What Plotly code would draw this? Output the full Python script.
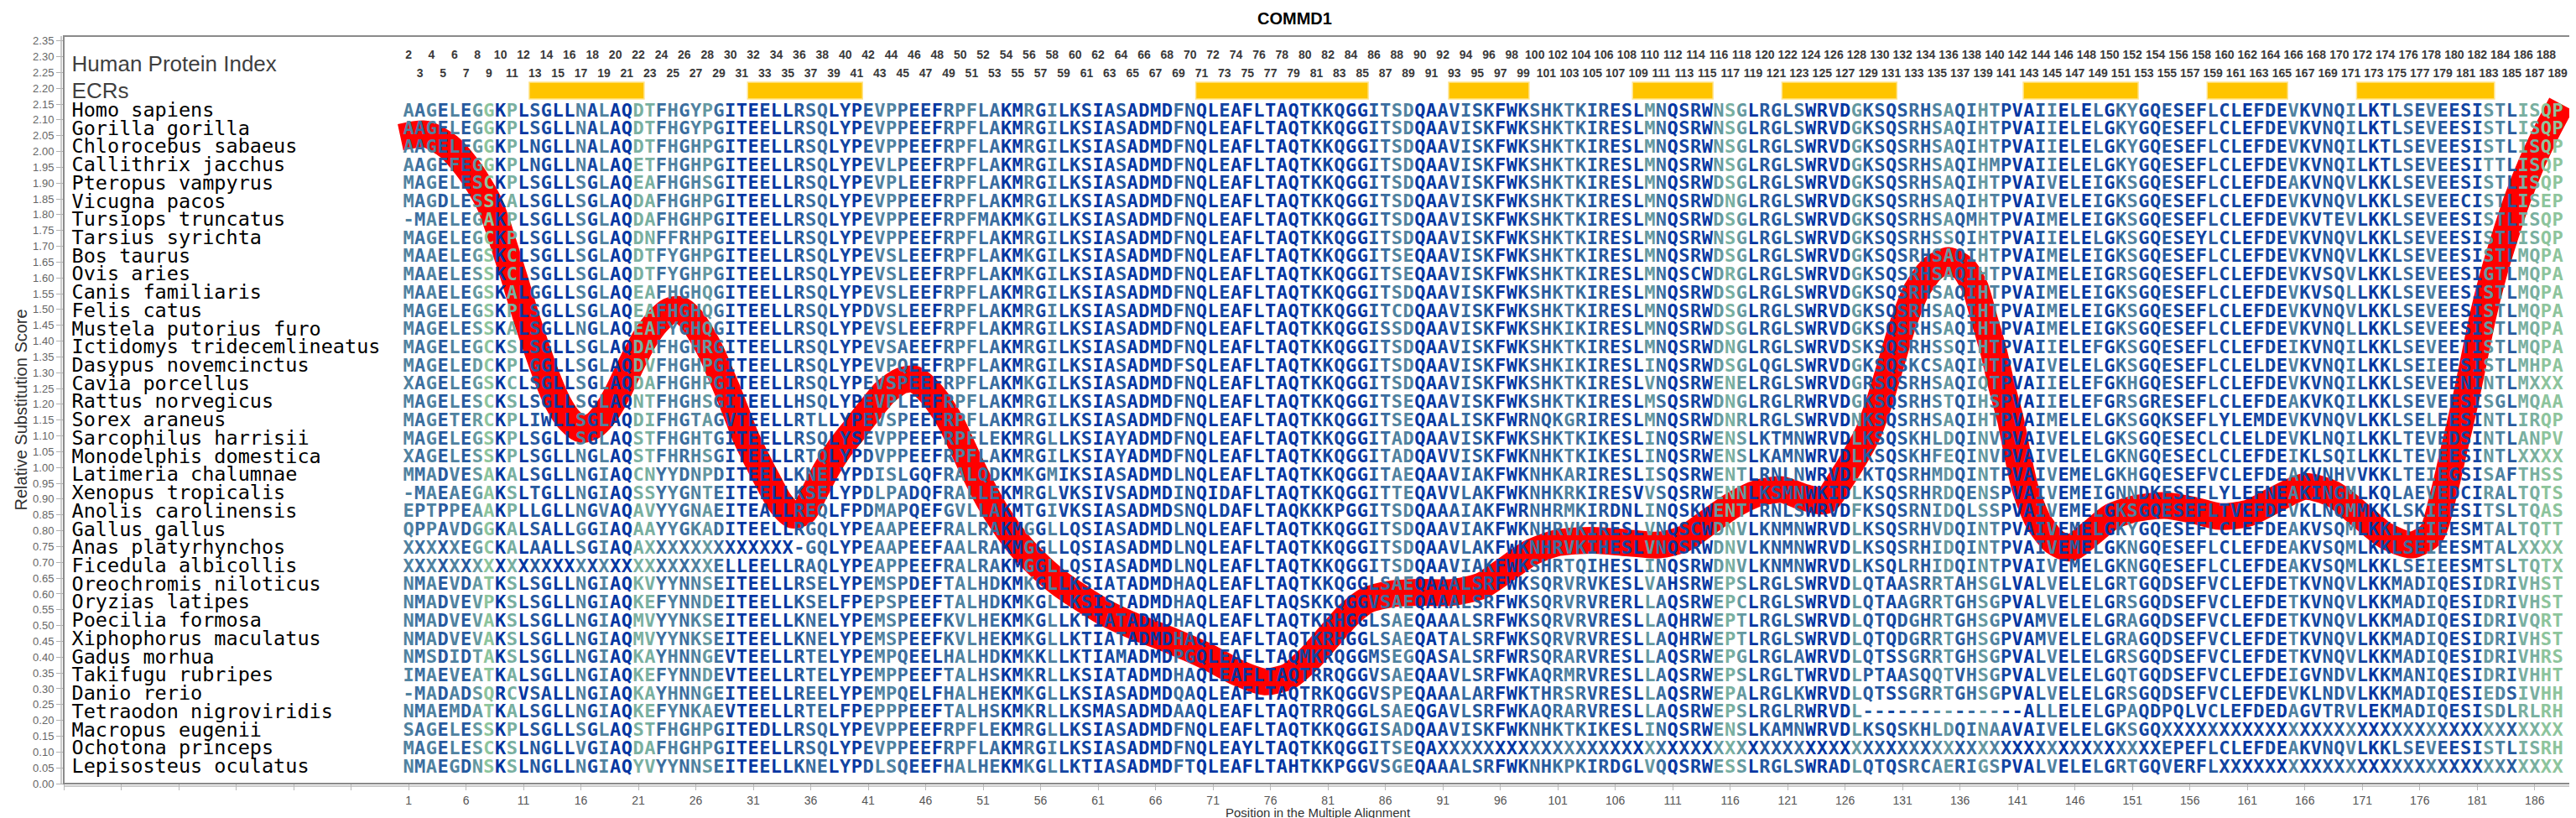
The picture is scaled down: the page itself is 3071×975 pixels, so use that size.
import plotly.graph_objects as go
from collections import Counter

# ---------------- data ----------------
species = [
    "Homo sapiens", "Gorilla gorilla", "Chlorocebus sabaeus", "Callithrix jacchus",
    "Pteropus vampyrus", "Vicugna pacos", "Tursiops truncatus", "Tarsius syrichta",
    "Bos taurus", "Ovis aries", "Canis familiaris", "Felis catus",
    "Mustela putorius furo", "Ictidomys tridecemlineatus", "Dasypus novemcinctus",
    "Cavia porcellus", "Rattus norvegicus", "Sorex araneus", "Sarcophilus harrisii",
    "Monodelphis domestica", "Latimeria chalumnae", "Xenopus tropicalis",
    "Anolis carolinensis", "Gallus gallus", "Anas platyrhynchos", "Ficedula albicollis",
    "Oreochromis niloticus", "Oryzias latipes", "Poecilia formosa",
    "Xiphophorus maculatus", "Gadus morhua", "Takifugu rubripes", "Danio rerio",
    "Tetraodon nigroviridis", "Macropus eugenii", "Ochotona princeps",
    "Lepisosteus oculatus",
]

H1 = "AAGELEGGKPLSGLLNALAQDTFHGYPGITEELLRSQLYPEVPPEEFRPFLAKMRGILKS"
H2 = "IASADMDFNQLEAFLTAQTKKQGGITSDQAAVISKFWKSHKTKIRESLMNQSRWNSGLRGLSW"
H3 = "RVDGKSQSRHSAQIHTPVAIIELELGKYGQESEFLCLEFDEVKVNQILKTLSEVEESISTLISQP"

# alignment columns 1-60 / 61-123 / 124-188
alignment_parts = [
    (H1, H2, H3),
    (H1, H2, H3),
    ("AAGELEGGKPLNGLLNALAQDTFHGHPGITEELLRSQLYPEVPPEEFRPFLAKMRGILKS", H2, H3),
    ("AAGEFEGGKPLNGLLNALAQETFHGHPGITEELLRSQLYPEVLPEEFRPFLAKMRGILKS", H2,
     "RVDGKSQSRHSAQIHMPVAIIELELGKYGQESEFLCLEFDEVKVNQILKTLSEVEESITTLISQP"),
    ("MAGELESCKPLSGLLSGLAQEAFHGHSGITEELLRSQLYPEVPLEEFRPFLAKMRGILKS",
     "IASADMDFNQLEAFLTAQTKKQGGITSDQAAVISKFWKSHKTKIRESLMNQSRWDSGLRGLSW",
     "RVDGKSQSRHSAQIHTPVAIVELEIGKSGQESEFLCLEFDEAKVNQVLKKLSEVEESISTLISQP"),
    ("MAGDLESSKALSGLLSGLAQDAFHGHPGITEELLRSQLYPEVPPEEFRPFLAKMRGILKS",
     "IASADMDFNQLEAFLTAQTKKQGGITSDQAAVISKFWKSHKTKIRESLMNQSRWDNGLRGLSW",
     "RVDGKSQSRHSAQIHTPVAIVELEIGKSGQESEFLCLEFDEVKVNQVLKKLSEVEECISTLISEP"),
    ("-MAELEGAKPLSGLLSGLAQDAFHGHPGITEELLRSQLYPEVPPEEFRPFMAKMKGILKS",
     "IASADMDFNQLEAFLTAQTKKQGGITSDQAAVISKFWKSHKTKIRESLMNQSRWDSGLRGLSW",
     "RVDGKSQSRHSAQMHTPVAIMELEIGKSGQESEFLCLEFDEVKVTEVLKKLSEVEESISTLISQP"),
    ("MAGELEGCKPLSGLLSGLAQDNFFRHPGITEELLRSQLYPEVPPEEFRPFLAKMRGILKS",
     "IASADMDFNQLEAFLTAQTKKQGGITSDQAAVISKFWKSHKTKIRESLMNQSRWNSGLRGLSW",
     "RVDGKSQSRHSSQIHTPVAIIELELGKSGQESEYLCLEFDEVKVNQVLKKLSEVEESISTLISQP"),
    ("MAAELEGSKCLSGLLSGLAQDTFYGHPGITEELLRSQLYPEVSLEEFRPFLAKMKGILKS",
     "IASADMDFNQLEAFLTAQTKKQGGITSEQAAVISKFWKSHKTKIRESLMNQSRWDSGLRGLSW",
     "RVDGKSQSRHSAQIHTPVAIMELEIGKSGQESEFLCLEFDEVKVNQVLKKLSEVEESISTLMQPA"),
    ("MAAELESSKCLSGLLSGLAQDTFYGHPGITEELLRSQLYPEVSLEEFRPFLAKMKGILKS",
     "IASADMDFNQLEAFLTAQTKKQGGITSEQAAVISKFWKSHKTKIRESLMNQSCWDRGLRGLSW",
     "RVDGKSQSRHSAQIHTPVAIMELEIGRSGQESEFLCLEFDEVKVSQVLKKLSEVEESIGTLMQPA"),
    ("MAAELEGSKALGGLLSGLAQEAFHGHQGITEELLRSQLYPEVSLEEFRPFLAKMRGILKS",
     "IASADMDFNQLEAFLTAQTKKQGGITSDQAAVISKFWKSHKTKIRESLMNQSRWDSGLRGLSW",
     "RVDGKSQSRHSAQIHTPVAIMELEIGKSGQESEFLCLEFDEVKVSQLLKKLSEVEESISTLMQPA"),
    ("MAGELEGSKPLSGLLSGLAQEAFHGHQGITEELLRSQLYPDVSLEEFRPFLAKMRGILKS",
     "IASADMDFNQLEAFLTAQTKKQGGITCDQAAVISKFWKSHKTKIRESLMNQSRWDSGLRGLSW",
     "RVDGKSQSRHSAQIHTPVAIMELEIGKSGQESEFLCLEFDEVKVNQVLKKLSEVEESISTLMQPA"),
    ("MAGELESSKALSGLLNGLAQEAFYGHQGITEELLRSQLYPEVSLEEFRPFLAKMRGILKS",
     "IASADMDFNQLEAFLTAQTKKQGGISSDQAAVISKFWKSHKIKIRESLMNQSRWDSGLRGLSW",
     "RVDGKSQSRHSAQIHTPVAIMELEIGKSGQESEFLCLEFDEVKVNQLLKKLSEVEESISTLMQPA"),
    ("MAGELEGCKSLSGLLSGLAQDAFHGHRGITEELLRSQLYPEVSAEEFRPFLAKMRGILKS",
     "IASADMDFNQLEAFLTAQTKKQGGITSDQAAVISKFWKSHKTKIRESLMNQSRWDNGLRGLSW",
     "RVDSKSQSRHSSQIHTPVAIIELEFGKSGQESEFLCLEFDEIKVNQILKKLSEVEETISTLMQPA"),
    ("MAGELEDCKPLGGLLSGLAQDVFHGHPGITEELLRSQLYPEVPQEEFRPFLAKMRGILKS",
     "IASADMDFSQLEAFLTAQTKKQGGITSDQAAVISKFWKSHKIKIRESLINQSRWDSGLQGLSW",
     "RVDGKSQSKCSAQIHTPVAIVELELGKSGQESEFLCLELDEVKVNQILKKLSEIEESISTLMHPA"),
    ("XAGELEGSKCLSGLLSGLAQDAFHGHPGITEELLRSQLYPEVSPEEFRPFLAKMKGILKS",
     "IASADMDFNQLEAFLTAQTKKQGGITSDQAAVISKFWKSHKTKIRESLVNQSRWENELRGLSW",
     "RVDGRSQSRHSAQIQTPVAIIELEFGKHGQESEFLCLEFDEVKVNQILKKLSEVEENINTLMXXX"),
    ("MAGELESCKSLSGLLSGLAQNTFHGHSGITEELLHSQLYPEVPLEEFRPFLAKMRGILKS",
     "IASADMDFNQLEAFLTAQTKKQGGITSEQAAVISKFWKSHKTKIRESLMSQSRWDNGLRGLRW",
     "RVDGKSQSRHSTQIHSPVAIIELEFGRSGRESEFLCLEFDEAKVKQILKKLSEVEESISGLMQAA"),
    ("MAGETERCKPLIWLLSGLAQDIFHGTAGVTEELLRTLLYPEVSPEEFRPFLAKMRGILKS",
     "IASADMDFNQLEAFLTAQTKKQGGITSEQAALISKFWRNQKGRIRESLMNQSRWDNRLRGLSW",
     "RVDNKSQSRHSAQIHTPVAIMELELGKSGQKSEFLYLEMDEVKVNQVLKKLSELEESINTLIRQP"),
    ("MAGELEGSKPLSGLLSGLAQSTFHGHTGITEELLRSQLYSEVPPEEFRPFLEKMRGLLKS",
     "IAYADMDFNQLEAFLTAQTKKQGGITADQAAVISKFWKSHKTKIKESLINQSRWENSLKTMNW",
     "RVDLKSQSKHLDQINVPVAIVELELGKSGQESECLCLELDEVKLNQILKKLTEVEDSINTLANPV"),
    ("XAGELESSKPLSGLLNGLAQSTFHRHSGITEELLRTQLYPDVPPEEFRPFLAKMRGILKS",
     "IAYADMDFNQLEAFLTAQTKKQGGITADQAVVISKFWKNHKTKIKESLINQSRWENSLKAMNW",
     "RVDLKSQSKHFEQINVPVAIVELELGKNGQESECLCLEFDEIKLSQILKKLTEVEESINTLXXXX"),
    ("MMADVESAKALSGLLNGIAQCNYYDNPDITEELLKNELYPDISLGQFRALQDKMKGMIKS",
     "IASADMDLNQLEAFLTAQTKKQGGITAEQAAVIAKFWKNHKARIRESLISQSRWENTLRNLNW",
     "RVDLKTQSRHMDQINTPVAIVEMELGKHGQESEFVCLEFDEAKVNHVVKKLTEIEGSISAFTHSS"),
    ("-MAEAEGAKSLTGLLNGIAQSSYYGNTEITEELLKSELYPDLPADQFRALLEKMRGLVKS",
     "IVSADMDINQIDAFLTAQTKKQGGITTEQAVVLAKFWKNHKRKIRESVVSQSRWENNLKSMNW",
     "KIDLKSQSRHRDQENSPVAIVEMEIGNNDKESEFLYLEFNEAKINGMLKQLAEVEDCIRALTQTS"),
    ("EPTPPEAAKPLLGLLNGVAQAVYYGNAEITEALLREQLFPDMAPQEFGVLLAKMTGIVKS",
     "IASADMDSNQLDAFLTAQKKKPGGITSDQAAAIAKFWRNHRMKIRDNLINQSKWENTLRNLSW",
     "RVDFKSQSRNIDQLSSPVAIVEMELGKSGQESEFLTVEFDEVKLNQMMKKLSKIEESITSLTQAS"),
    ("QPPAVDGGKALSALLGGIAQAAYYGKADITEELLRGQLYPEAAPEEFRALRAKMGGLLQS",
     "IASADMDLNQLEAFLTAQTKKQGGITSDQAAVIAKFWKNHRVKIRESLVNQSCWDNVLKNMNW",
     "RVDLKSQSRHVDQINTPVAIVEMELGKYGQESEFLCLEFDEAKVSQMLKKLTEIEESMTALTQTT"),
    ("XXXXXEGCKALAALLSGIAQA" + "X" * 13 + "-GQLYPEAAPEEFAALRAKMGGLLQS",
     "IASADMDLNQLEAFLTAQTKKQGGITSDQAAVLAKFWKNHRVKIHESLVNQSRWDNVLKNMNW",
     "RVDLKSQSRHIDQINTPVAIVEMELGKNGQESEFLCLEFDEAKVSQMLKKLSEIEESMTALXXXX"),
    ("X" * 27 + "ELLEELLRAQLYPEAPPEEFRALRAKMGGLLQS",
     "IASADMDLNQLEAFLTAQTKKQGGITSDQAAVIAKFWKSHRTQIHESLINQSRWDNVLKNMNW",
     "RVDLKSQLRHIDQINTPVAIVEMELGKNGQESEFLCLEFDEAKVSQMLKKLSEIEESMTSLTQTX"),
    ("NMAEVDATKSLSGLLNGIAQKVYYNNSEITEELLRSELYPEMSPDEFTALHDKMKGLLKS",
     "IATADMDHAQLEAFLTAQTKKQGGLSAEQAAALSRFWKSQRVRVKESLVAHSRWEPSLRGLSW",
     "RVDLQTAASRRTAHSGLVALVELELGRTGQDSEFVCLEFDETKVNQVLKKMADIQESIDRIVHST"),
    ("NMADVEVPKSLSGLLNGIAQKEFYNNDEITEELLKSELFPEPSPEEFTALHDKMKGLLKS",
     "ISTADMDHAQLEAFLTAQSKKQGGVSAEQAAALSRFWKSQRVRVRERLLAQSRWEPCLRGLSW",
     "RVDLQTAAGRRTGHSGPVALVELELGRSGQDSEFVCLEFDETKVNQVLKKMADIQESIDRIVHST"),
    ("NMADVEVAKSLSGLLNGIAQMVYYNKSEITEELLKNELYPEMSPEEFKVLHEKMKGLLKT",
     "IATADMDHAQLEAFLTAQTKRHGGLSAEQAAALSRFWKSQRVRVRESLLAQHRWEPTLRGLSW",
     "RVDLQTQDGHRTGHSGPVAMVELELGRAGQDSEFVCLEFDETKVNQVLKKMADIQESIDRIVQRT"),
    ("NMADVEVAKSLSGLLNGIAQMVYYNKSEITEELLKNELYPEMSPEEFKVLHEKMKGLLKT",
     "IATADMDHAQLEAFLTAQTKRHGGLSAEQATALSRFWKSQRVRVRESLLAQHRWEPTLRGLSW",
     "RVDLQTQDGRRTGHSGPVAMVELELGRAGQDSEFVCLEFDETKVNQVLKKMADIQESIDRIVHST"),
    ("NMSDIDTAKSLSGLLNGIAQKAYHNNGEVTEELLRTELYPEMPQEELHALHDKMKKLLKT",
     "IAMADMDPGQLEAFLTAQMKRQGGMSEGQASALSRFWRSQRARVRESLLAQSRWEPGLRGLAW",
     "RVDLQTSSGRRTGHSGPVALVELELGRSGQDSEFVCLEFDETKVNQVLKKMADIQESIDRIVHRS"),
    ("IMAEVEATKALSGLLNGIAQKEFYNNDEVTEELLRTELYPEMPPEEFTALHSKMKRLLKS",
     "IATADMDHAQLEAFLTAQTRRQGGVSAEQAAVLSRFWKAQRMRVRESLLAQSRWEPSLRGLTW",
     "RVDLPTAASQQTVHSGPVALVELELGQTGQDSEFVCLEFDEIGVNDVLKKMANIQESIDRIVHHT"),
    ("-MADADSQRCVSALLNGIAQKAYHNNGEITEELLREELYPEMPQELFHALHEKMKGLLKS",
     "IASADMDQAQLEAFLTAQTRKQGGVSPEQAAALARFWKTHRSRVRESLLAQSRWEPALRGLKW",
     "RVDLQTSSGRRTGHSGPVALVELELGRSGQDSEFVCLEFDEVKLNDVLKKMADIQESIEDSIVHH"),
    ("NMAEMDATKALSGLLNGIAQKEFYNKAEVTEELLRTELFPEPPPEEFTALHSKMKRLLKS",
     "MASADMDAAQLEAFLTAQTRRQGGLSAEQGAVLSRFWKAQRARVRESLLAQSRWEPSLRGLRW",
     "RVDL" + "-" * 14 + "ALLELELGPAQDPQLVCLEFDEDAGVTRVLEKMADIQESISDLRLRH"),
    ("SAGELESSKPLSGLLSGLAQSTFHGHPGITEDLLRSQLYPEVPPEEFRPFLEKMRGLLKS",
     "IASADMDFNQLEAFLTAQTKKQGGISADQAAVISKFWKNHKTKIKESLINQSRWENSLKAMNW",
     "RVDLKSQSKHLDQINAAVAIVELELGKSGQ" + "X" * 35),
    ("MAGELESCKSLNGLLVGIAQDAFHGHPGITEELLRSQLYPEVPPEEFRPFLAKMRGILKS",
     "IASADMDFNQLEAYLTAQTKKQGGITSEQA" + "X" * 33,
     "X" * 30 + "EPEFLCLEFDEAKVNQVLKKLSEVEESISTLISRH"),
    ("NMAEGDNSKSLNGLLNGIAQYVYYNNSEITEELLKNELYPDLSQEEFHALHEKMKGLLKT",
     "IASADMDFTQLEAFLTAHTKKPGGVSGEQAAALSRFWKNHKPKIRDGLVQQSRWESSLRGLSW",
     "RADLQTQSRCAERIGSPVALVELELGRTGQVERFL" + "X" * 30),
]

n_cols = 188
human_index = list(range(2, 190))          # human residue number for columns 1..188

ecr_ranges = [(12, 21), (31, 40), (70, 84), (92, 98), (108, 114),
              (121, 130), (142, 151), (158, 164), (171, 182)]

curve_pos = [0.3, 2.5, 4.5, 6.1, 7.2, 8.1, 8.8, 9.5, 10.2, 10.9, 11.6, 12.3, 13.1, 14.0,
             15.0, 16.1, 17.2, 18.2, 19.1, 19.9, 20.7, 21.6, 22.6, 23.7, 24.6, 25.6, 26.5,
             27.4, 28.1, 28.8, 29.5, 30.3, 31.3, 32.3, 33.3, 34.4, 35.4, 36.3, 37.3, 38.5,
             39.8, 41.1, 42.5, 43.9, 45.0, 46.2, 47.3, 48.3, 49.2, 50.1, 51.0, 52.0, 53.2,
             54.5, 56.0, 57.6, 59.4, 61.4, 64.0, 67.5, 70.6, 73.2, 75.5, 77.6, 79.5, 81.2,
             82.8, 84.4, 86.5, 89.0, 91.8, 94.3, 96.4, 98.6, 101.0, 104.0, 107.0, 109.8,
             112.0, 114.0, 116.2, 118.5, 120.5, 122.5, 124.3, 125.6, 126.8, 128.0, 129.0,
             130.0, 131.0, 132.2, 133.6, 135.0, 136.3, 137.3, 138.1, 138.9, 139.6, 140.4,
             141.0, 141.7, 142.8, 144.2, 145.6, 147.3, 149.2, 151.3, 153.8, 156.3, 158.6,
             161.0, 163.5, 166.0, 168.5, 170.8, 173.0, 175.3, 177.0, 178.1, 179.0, 179.9,
             180.7, 181.5, 182.4, 183.4, 184.5, 185.7, 187.0, 188.3]
curve_val = [2.045, 2.055, 2.015, 1.950, 1.890, 1.830, 1.760, 1.680, 1.600, 1.515, 1.435,
             1.360, 1.280, 1.205, 1.150, 1.120, 1.135, 1.175, 1.230, 1.290, 1.350, 1.410,
             1.460, 1.495, 1.500, 1.470, 1.420, 1.360, 1.300, 1.240, 1.175, 1.100, 1.025,
             0.955, 0.890, 0.850, 0.860, 0.920, 0.990, 1.060, 1.120, 1.180, 1.240, 1.275,
             1.280, 1.245, 1.195, 1.135, 1.065, 0.995, 0.930, 0.865, 0.800, 0.740, 0.685,
             0.635, 0.590, 0.545, 0.500, 0.450, 0.400, 0.350, 0.322, 0.340, 0.400, 0.470,
             0.535, 0.580, 0.600, 0.605, 0.605, 0.625, 0.675, 0.730, 0.762, 0.770, 0.762,
             0.755, 0.775, 0.825, 0.880, 0.920, 0.930, 0.905, 0.895, 0.960, 1.030, 1.110,
             1.210, 1.330, 1.450, 1.560, 1.630, 1.655, 1.630, 1.570, 1.470, 1.370, 1.260,
             1.150, 1.040, 0.930, 0.830, 0.765, 0.745, 0.790, 0.845, 0.870, 0.880, 0.865,
             0.845, 0.855, 0.900, 0.940, 0.915, 0.850, 0.785, 0.755, 0.790, 0.920, 1.060,
             1.200, 1.340, 1.480, 1.610, 1.730, 1.850, 1.960, 2.060, 2.150]

# ---------------- layout helpers ----------------
rows = [(a + b + c).ljust(n_cols)[:n_cols] for a, b, c in alignment_parts]
n_rows = len(rows)
row_top, row_step = 2.126, 0.05766
row_y = [row_top - i * row_step for i in range(n_rows)]

palette = [(0.95, "#0436A2"), (0.85, "#1245A2"), (0.72, "#275A9F"), (0.60, "#3B6E9F"),
           (0.50, "#5082A0"), (0.40, "#6498A0"), (0.32, "#79AFA0"), (0.0, "#8DC49C")]


def column_color(ci):
    chars = [r[ci] for r in rows if r[ci] not in "X- "]
    if not chars:
        return palette[4][1]
    frac = Counter(chars).most_common(1)[0][1] / len(chars)
    for thr, colr in palette:
        if frac >= thr:
            return colr
    return palette[-1][1]


col_colors = [column_color(ci) for ci in range(n_cols)]

fig = go.Figure()

# substitution score curve
fig.add_trace(go.Scatter(x=curve_pos, y=curve_val, mode="lines",
                         line=dict(color="#FF0000", width=32, shape="spline", smoothing=0.7),
                         hoverinfo="skip", showlegend=False))

# ECR bars
ecr_base, ecr_top = 2.166, 2.219
fig.add_trace(go.Bar(x=[(a + b) / 2 for a, b in ecr_ranges],
                     y=[ecr_top - ecr_base] * len(ecr_ranges),
                     base=[ecr_base] * len(ecr_ranges),
                     width=[b - a + 1 for a, b in ecr_ranges],
                     marker=dict(color="#FFC400", line=dict(color="#FFE48C", width=1.5)),
                     hoverinfo="skip", showlegend=False))

# alignment letters grouped by colour
groups = {}
for ri, r in enumerate(rows):
    for ci, ch in enumerate(r):
        if ch == " ":
            continue
        g = groups.setdefault(col_colors[ci], ([], [], []))
        g[0].append(ci + 1)
        g[1].append(row_y[ri])
        g[2].append(ch)
for colr, (xs, ys, ts) in groups.items():
    fig.add_trace(go.Scatter(x=xs, y=ys, text=ts, mode="text", textposition="middle center",
                             textfont=dict(family="DejaVu Sans Mono", size=22, color=colr,
                                           weight="bold"),
                             hoverinfo="skip", showlegend=False))

# species names
name_x = -28.3
fig.add_trace(go.Scatter(x=[name_x] * n_rows, y=row_y, text=species, mode="text",
                         textposition="middle right",
                         textfont=dict(family="DejaVu Sans Mono", size=23.5, color="#000000"),
                         hoverinfo="skip", showlegend=False))

# header labels
fig.add_trace(go.Scatter(x=[name_x, name_x], y=[2.272, 2.185],
                         text=["Human Protein Index", "ECRs"], mode="text",
                         textposition="middle right",
                         textfont=dict(family="Liberation Sans, Arial, sans-serif", size=26,
                                       color="#3f3f3f"),
                         hoverinfo="skip", showlegend=False))

# human protein index numbers (two staggered rows)
idx_font = dict(family="Liberation Sans, Arial, sans-serif", size=14,
                color="#3a3a3a", weight="bold")
up_x = [c + 1 for c in range(0, n_cols, 2)]
lo_x = [c + 1 for c in range(1, n_cols, 2)]
fig.add_trace(go.Scatter(x=up_x, y=[2.303] * len(up_x),
                         text=[str(human_index[c - 1]) for c in up_x], mode="text",
                         textposition="middle center", textfont=idx_font,
                         hoverinfo="skip", showlegend=False))
fig.add_trace(go.Scatter(x=lo_x, y=[2.245] * len(lo_x),
                         text=[str(human_index[c - 1]) for c in lo_x], mode="text",
                         textposition="middle center", textfont=idx_font,
                         hoverinfo="skip", showlegend=False))

W, Hh = 3071, 975
ml, mr, mt, mb = 68, 12, 35, 49
pw, ph = W - ml - mr, Hh - mt - mb

xt = list(range(-29, 190, 5))
fig.update_layout(
    width=W, height=Hh, margin=dict(l=ml, r=mr, t=mt, b=mb),
    paper_bgcolor="white", plot_bgcolor="white", hovermode=False, showlegend=False,
    title=dict(text="<b>COMMD1</b>", x=0.5, xref="container", xanchor="center",
               y=1 - 14 / Hh, yref="container", yanchor="middle",
               font=dict(family="Liberation Sans, Arial, sans-serif", size=20, color="#000")),
    xaxis=dict(range=[-29, 189.3], tickmode="array", tickvals=xt,
               ticktext=[str(v) if v >= 1 else "" for v in xt],
               ticks="outside", ticklen=7, tickcolor="#b8b8b8", tickwidth=1,
               tickfont=dict(family="Liberation Sans Narrow, Arial Narrow, sans-serif",
                             size=14, color="#555555"),
               showgrid=False, zeroline=False, showline=False),
    yaxis=dict(range=[0, 2.365], tick0=0, dtick=0.05, tickformat=".2f",
               ticks="outside", ticklen=8, tickcolor="#b0b0b0", tickwidth=1,
               tickfont=dict(family="Liberation Sans, Arial, sans-serif", size=13,
                             color="#666666"),
               showgrid=False, zeroline=False, showline=False),
    shapes=[
        dict(type="rect", xref="paper", yref="paper", x0=0, y0=0, x1=1, y1=1,
             line=dict(color="#8a8a8a", width=2), layer="above"),
        dict(type="line", xref="paper", yref="paper", x0=-3 / pw, x1=-3 / pw, y0=0, y1=1,
             line=dict(color="#b8b8b8", width=1.5)),
        dict(type="line", xref="paper", yref="paper", x0=0, x1=1, y0=-3 / ph, y1=-3 / ph,
             line=dict(color="#b8b8b8", width=1.5)),
    ],
    annotations=[
        dict(text="Position in the Multiple Alignment", xref="paper", yref="paper",
             x=0.5, y=-(960 - (mt + ph)) / ph, xanchor="center", yanchor="middle",
             showarrow=False,
             font=dict(family="Liberation Sans Narrow, Arial Narrow, sans-serif", size=15,
                       color="#333333")),
        dict(text="Relative Substitution Score", xref="paper", yref="paper",
             x=-(ml - 16) / pw, y=0.5, xanchor="center", yanchor="middle", textangle=-90,
             showarrow=False,
             font=dict(family="Liberation Sans, Arial, sans-serif", size=20,
                       color="#333333")),
    ],
)

fig.write_html("out.html")
